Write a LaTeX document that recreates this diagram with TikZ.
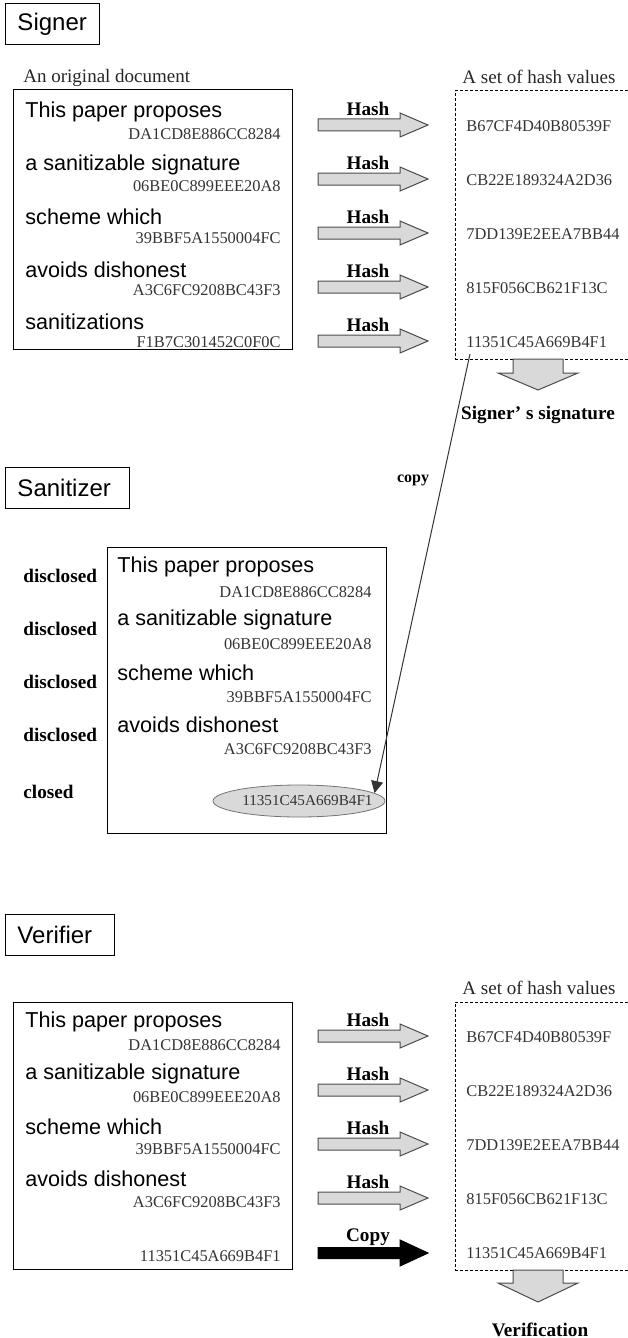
\documentclass[tikz,border=0pt]{standalone}
\usepackage{fontspec}
\setmainfont{Liberation Serif}
\setsansfont{Liberation Sans}
\usetikzlibrary{arrows.meta,positioning,calc,fit,shapes.geometric}
\definecolor{arrowgray}{HTML}{D9D9D9}
\definecolor{valtext}{HTML}{333333}
\tikzset{
  rolebox/.style={draw,line width=.5pt,anchor=north west,inner xsep=6pt,minimum height=20.5pt,
    align=left,font=\sffamily\fontsize{12}{14}\selectfont},
  docbox/.style={draw,line width=.5pt,inner sep=0pt},
  setbox/.style={draw,dash pattern=on 1.5pt off 1pt,line width=.5pt,inner sep=0pt},
  doctext/.style={anchor=west,inner sep=0pt,font=\sffamily\fontsize{10.8}{12}\selectfont},
  hashval/.style={inner sep=1pt,text=valtext,font=\fontsize{8.2}{10}\selectfont},
  caption/.style={inner sep=0pt,text=black!85,font=\fontsize{9.5}{11}\selectfont},
  boldlbl/.style={inner sep=0pt,font=\bfseries\fontsize{9.6}{11}\selectfont},
  fatarrow/.style={fill=arrowgray,draw=black!70,line width=.5pt},
  copyarrow/.style={fill=black,draw=black,line width=.5pt},
  copyline/.style={draw=black!80,line width=.5pt,-{Triangle[length=6pt,width=6pt]}},
}

\begin{document}
\begin{tikzpicture}[x=.5pt,y=-.5pt]
  \useasboundingbox (0,0) rectangle (627,1338);

  % signer
  \node[rolebox,text width=35pt] (signer) at (5,3) {Signer};
  \node[caption,anchor=west] (sorig) at (23,78) {An original document};
  \node[docbox,fit={(13,90) (292,349)}] (sdoc) {};
  \node[caption] (sset) at (539,77) {A set of hash values};
  \node[setbox,fit={(455,91) (720,359)}] (sbox) {};
  \foreach \i/\t/\h/\v in {1/This paper proposes/DA1CD8E886CC8284/B67CF4D40B80539F,
                           2/a sanitizable signature/06BE0C899EEE20A8/CB22E189324A2D36,
                           3/scheme which/39BBF5A1550004FC/7DD139E2EEA7BB44,
                           4/avoids dishonest/A3C6FC9208BC43F3/815F056CB621F13C,
                           5/sanitizations/F1B7C301452C0F0C/11351C45A669B4F1}{
    \node[doctext] (st\i) at (25,{112+52.5*(\i-1)}) {\t};
    \node[hashval,anchor=east] (sh\i) at (283,{134+52*(\i-1)}) {\h};
    \draw[fatarrow] (318,{125+54*(\i-1)-6}) -- (400,{125+54*(\i-1)-6}) -- (400,{125+54*(\i-1)-12})
      -- (428,{125+54*(\i-1)}) -- (400,{125+54*(\i-1)+12}) -- (400,{125+54*(\i-1)+6})
      -- (318,{125+54*(\i-1)+6}) -- cycle;
    \node[boldlbl] (sl\i) at (368,{109+54*(\i-1)}) {Hash};
    \node[hashval,anchor=west] (sv\i) at (464,{126+54*(\i-1)}) {\v};
  }
  \draw[fatarrow] (513,359) -- (563,359) -- (563,373) -- (578,373) -- (538,390)
    -- (498,373) -- (513,373) -- cycle;
  \node[boldlbl] (ssig) at (538,415) {Signer’\ s signature};

  % sanitizer
  \node[rolebox,text width=50pt] (sanitizer) at (5,467) {Sanitizer};
  \node[docbox,fit={(107,547) (386,833)}] (zdoc) {};
  \foreach \i/\t/\h in {1/This paper proposes/DA1CD8E886CC8284,
                        2/a sanitizable signature/06BE0C899EEE20A8,
                        3/scheme which/39BBF5A1550004FC,
                        4/avoids dishonest/A3C6FC9208BC43F3}{
    \node[doctext] (zt\i) at (117,{567+52.7*(\i-1)}) {\t};
    \node[hashval,anchor=east] (zh\i) at (374,{592+52.5*(\i-1)}) {\h};
    \node[boldlbl,anchor=west] (zl\i) at (23,{576+53*(\i-1)}) {disclosed};
  }
  \node[boldlbl,anchor=west] (zl5) at (23,792) {closed};
  \node[ellipse,draw=black!55,fill=arrowgray,minimum width=86pt,minimum height=16pt,inner sep=0pt]
    (cl) at (299,801) {};
  \node[hashval,font=\fontsize{7.6}{9}\selectfont,anchor=east] (clv) at (375,801) {11351C45A669B4F1};
  \node[inner sep=0pt,font=\bfseries\fontsize{8}{10}\selectfont] (cpy) at (413,480) {copy};
  \draw[copyline] ([xshift=3pt,yshift=-2pt]sv5.south west) -- (cl.6);

  % verifier
  \node[rolebox,text width=42.5pt] (verifier) at (5,914) {Verifier};
  \node[docbox,fit={(13,1002) (292,1269)}] (vdoc) {};
  \node[caption] (vset) at (539,988) {A set of hash values};
  \node[setbox,fit={(455,1002) (720,1270)}] (vbox) {};
  \foreach \i/\t/\h/\v in {1/This paper proposes/DA1CD8E886CC8284/B67CF4D40B80539F,
                           2/a sanitizable signature/06BE0C899EEE20A8/CB22E189324A2D36,
                           3/scheme which/39BBF5A1550004FC/7DD139E2EEA7BB44,
                           4/avoids dishonest/A3C6FC9208BC43F3/815F056CB621F13C}{
    \node[doctext] (vt\i) at (25,{1022+52.3*(\i-1)}) {\t};
    \node[hashval,anchor=east] (vh\i) at (283,{1045+52.3*(\i-1)}) {\h};
    \draw[fatarrow] (318,{1036+54*(\i-1)-6}) -- (400,{1036+54*(\i-1)-6}) -- (400,{1036+54*(\i-1)-12})
      -- (428,{1036+54*(\i-1)}) -- (400,{1036+54*(\i-1)+12}) -- (400,{1036+54*(\i-1)+6})
      -- (318,{1036+54*(\i-1)+6}) -- cycle;
    \node[boldlbl] (vl\i) at (368,{1020+54*(\i-1)}) {Hash};
    \node[hashval,anchor=west] (vv\i) at (464,{1037+54*(\i-1)}) {\v};
  }
  \node[hashval,anchor=east] (vh5) at (283,1256) {11351C45A669B4F1};
  \draw[copyarrow] (318,1247.5) -- (400,1247.5) -- (400,1240) -- (428,1253) -- (400,1266)
    -- (400,1258.5) -- (318,1258.5) -- cycle;
  \node[boldlbl] (vl5) at (368,1237) {Copy};
  \node[hashval,anchor=west] (vv5) at (464,1253) {11351C45A669B4F1};
  \draw[fatarrow] (513,1270) -- (563,1270) -- (563,1283) -- (578,1283) -- (538,1302)
    -- (498,1283) -- (513,1283) -- cycle;
  \node[boldlbl] (vfy) at (540,1330) {Verification};
\end{tikzpicture}
\end{document}
